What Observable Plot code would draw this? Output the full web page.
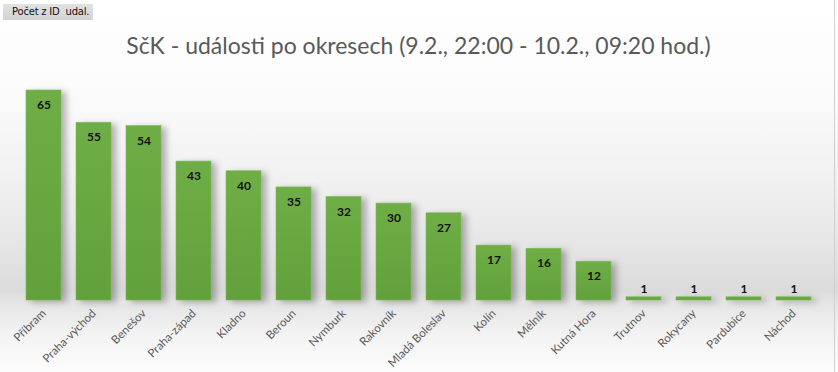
<!DOCTYPE html>
<html>
<head>
<meta charset="utf-8">
<script src="https://cdn.jsdelivr.net/npm/d3@7"></script>
<script src="https://cdn.jsdelivr.net/npm/@observablehq/plot@0.6"></script>
<style>
  html, body { margin: 0; padding: 0; background: #fff; }
  #wrap {
    position: relative; width: 838px; height: 372px; overflow: hidden;
    background: linear-gradient(to bottom, #ffffff 0%, #fbfbfb 25%, #f0f0f0 50%, #e4e4e4 68%, #dbdbdb 78%, #e6e6e6 82%, #f3f3f3 90%, #fdfdfd 100%);
  }
  #btn {
    position: absolute; left: 3px; top: 4px; width: 90px; height: 16px;
    background: linear-gradient(to bottom, #e2e2e2, #d2d2d2);
    font: 10px "DejaVu Sans", sans-serif; color: #111; line-height: 16px;
    text-indent: 9px; white-space: pre; letter-spacing: -0.2px;
  }
  #rline { position: absolute; left: 834px; top: 0; width: 1px; height: 372px; background: #d0d0d0; }
  svg g[aria-label="bar"] rect { filter: drop-shadow(5px 2px 3px rgba(0,0,0,0.28)); }
</style>
</head>
<body>
<div id="wrap"><div id="btn">Počet z ID  udal.</div><div id="rline"></div></div>
<script>
const districts = ["Příbram","Praha-východ","Benešov","Praha-západ","Kladno","Beroun","Nymburk","Rakovník","Mladá Boleslav","Kolín","Mělník","Kutná Hora","Trutnov","Rokycany","Pardubice","Náchod"];
const counts = [65,55,54,43,40,35,32,30,27,17,16,12,1,1,1,1];
const title = "SčK - události po okresech (9.2., 22:00 - 10.2., 09:20 hod.)";

const data = districts.map((d, i) => ({district: d, count: counts[i]}));

const defs = () => {
  const ns = "http://www.w3.org/2000/svg";
  const d = document.createElementNS(ns, "defs");
  d.innerHTML = `<linearGradient id="gbar" x1="0" y1="0" x2="0" y2="1">
      <stop offset="0%" stop-color="#6fad46"/>
      <stop offset="100%" stop-color="#62a03b"/>
    </linearGradient>`;
  return d;
};

const chart = Plot.plot({
  width: 838,
  height: 372,
  marginLeft: 16,
  marginRight: 18,
  marginTop: 90,
  marginBottom: 72,
  style: { background: "transparent", overflow: "visible" },
  x: { domain: districts, paddingInner: 0.3, paddingOuter: 0.15, label: null },
  y: { domain: [0, 65], axis: null },
  marks: [
    defs,
    Plot.barY(data, { x: "district", y: "count", fill: "url(#gbar)", stroke: "#7dbb55", strokeWidth: 0.6 }),
    Plot.text(data, {
      x: "district", y: "count", text: d => String(d.count),
      fontWeight: "bold", fontSize: 12, fill: "#111", fontFamily: "Lato, sans-serif",
      filter: d => d.count >= 5, lineAnchor: "top", dy: 10
    }),
    Plot.text(data, {
      x: "district", y: "count", text: d => String(d.count),
      fontWeight: "bold", fontSize: 12, fill: "#111", fontFamily: "Lato, sans-serif",
      filter: d => d.count < 5, lineAnchor: "bottom", dy: -4
    }),
    Plot.axisX({ tickSize: 0, tickPadding: 11, tickRotate: -45, fontSize: 11.5, fill: "#595959", fontFamily: "Lato, sans-serif", label: null }),
    Plot.text([title], { frameAnchor: "top", lineAnchor: "middle", dy: -44, fontSize: 23, fill: "#595959", fontFamily: "Lato, sans-serif" })
  ]
});
chart.style.position = "absolute";
chart.style.left = "0";
chart.style.top = "0";
document.getElementById("wrap").appendChild(chart);
</script>
</body>
</html>
